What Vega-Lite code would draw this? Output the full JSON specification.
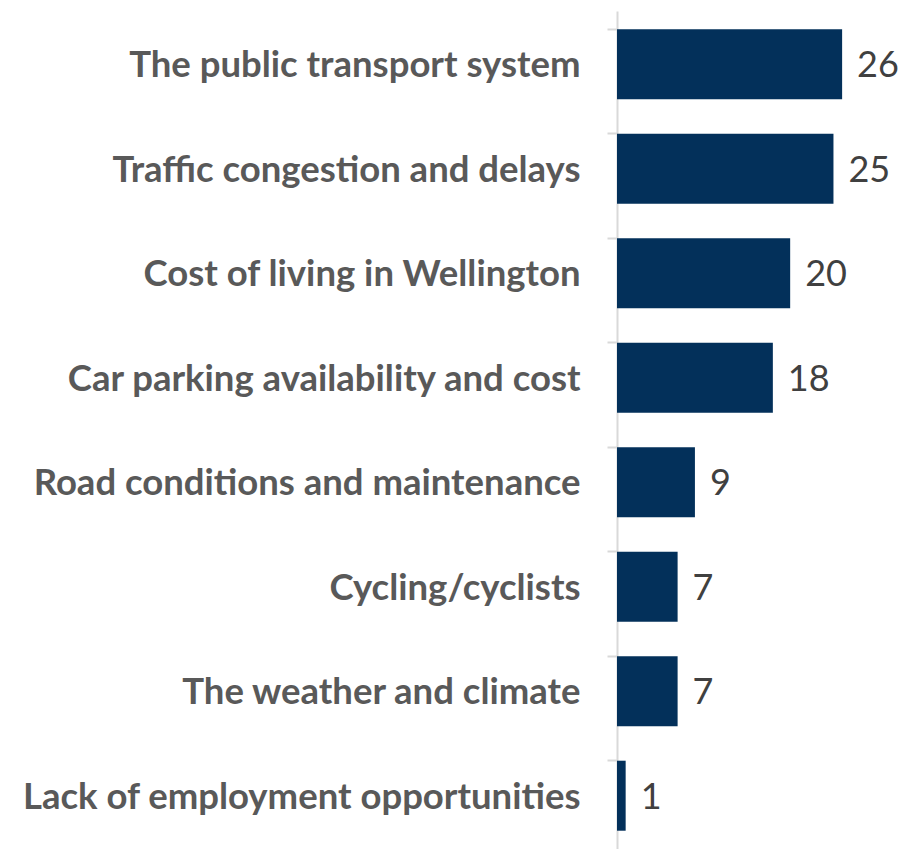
{
  "$schema": "https://vega.github.io/schema/vega-lite/v6.json",
  "autosize": "none",
  "padding": {"left": 617, "top": 11, "right": 0, "bottom": 0},
  "width": 284,
  "height": 838,
  "background": "white",
  "config": {"view": {"stroke": null}},
  "data": {"values": [
    {"issue": "The public transport system", "value": 26},
    {"issue": "Traffic congestion and delays", "value": 25},
    {"issue": "Cost of living in Wellington", "value": 20},
    {"issue": "Car parking availability and cost", "value": 18},
    {"issue": "Road conditions and maintenance", "value": 9},
    {"issue": "Cycling/cyclists", "value": 7},
    {"issue": "The weather and climate", "value": 7},
    {"issue": "Lack of employment opportunities", "value": 1}
  ]},
  "encoding": {
    "y": {
      "field": "issue", "type": "nominal", "sort": null,
      "scale": {"paddingInner": 0.33, "paddingOuter": 0.175},
      "axis": {
        "title": null, "bandPosition": 0, "domainColor": "#D9D9D9", "domainWidth": 2,
        "tickColor": "#D9D9D9", "tickWidth": 2, "tickSize": 10,
        "labelFont": "Lato", "labelFontWeight": "bold", "labelFontSize": 36.5,
        "labelColor": "#595959", "labelPadding": 27, "labelLimit": 700, "labelOffset": 2
      }
    },
    "x": {
      "field": "value", "type": "quantitative",
      "scale": {"domain": [0, 32.8]},
      "axis": null
    }
  },
  "layer": [
    {"mark": {"type": "bar", "color": "#03305A"}},
    {"mark": {"type": "text", "align": "left", "dx": 15, "dy": 2, "font": "Lato", "fontSize": 36, "color": "#404040"},
     "encoding": {"text": {"field": "value", "type": "quantitative"}}}
  ]
}
